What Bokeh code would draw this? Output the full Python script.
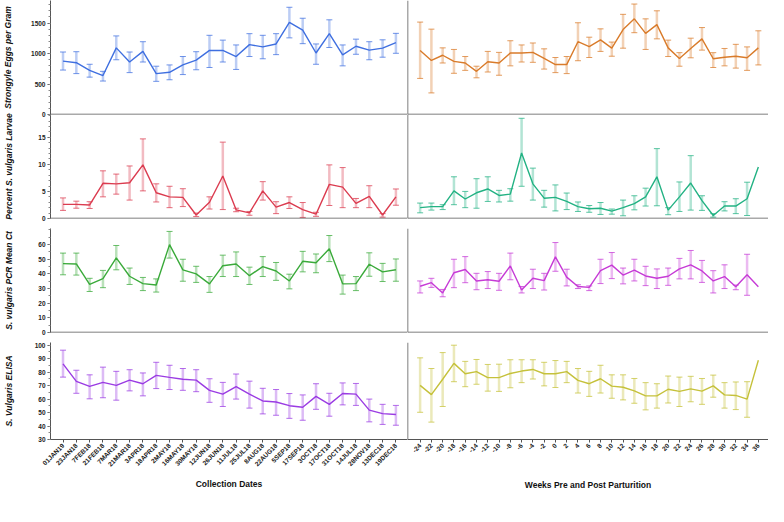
import numpy as np
from math import pi
from bokeh.plotting import figure
from bokeh.layouts import gridplot
from bokeh.models import (ColumnDataSource, Whisker, TeeHead, Range1d, LinearAxis, FixedTicker,
                          Span)
from bokeh.embed import file_html
from bokeh.resources import INLINE

nan = np.nan

dates = ["01JAN19", "23JAN18", "7FEB18", "21FEB18", "7MAR18", "21MAR18", "3APR18", "18APR18",
         "2MAY18", "16MAY18", "30MAY18", "12JUN18", "26JUN18", "11JUL18", "25JUL18", "8AUG18",
         "22AUG18", "5SEP18", "17SEP18", "3OCT18", "17OCT18", "31OCT18", "14JUL18", "28NOV18",
         "13DEC18", "19DEC18"]
weeks = ["-24", "-22", "-20", "-18", "-16", "-14", "-12", "-10", "-8", "-6", "-4", "-2", "0",
         "2", "4", "6", "8", "10", "12", "14", "16", "18", "20", "22", "24", "26", "28", "30",
         "32", "34", "36"]

# Strongyle eggs per gram
epg_date_mean = [875, 850, 724, 639, 1093, 861, 1035, 671, 692, 813, 893, 1051, 1051, 951, 1146,
                 1109, 1157, 1511, 1384, 1009, 1326, 977, 1120, 1056, 1088, 1178]
epg_date_lo = [729, 671, 613, 549, 898, 687, 861, 544, 570, 655, 734, 771, 861, 739, 951, 914,
               982, 1257, 1162, 824, 1099, 798, 988, 898, 940, 1004]
epg_date_hi = [1025, 1030, 824, 708, 1289, 1025, 1194, 792, 813, 951, 1030, 1299, 1220, 1141,
               1326, 1299, 1326, 1759, 1579, 1157, 1553, 1141, 1236, 1194, 1225, 1331]
epg_week_mean = [1051, 887, 972, 871, 845, 708, 866, 845, 1009, 1009, 1019, 919, 819, 819, 1194,
                 1114, 1225, 1088, 1394, 1569, 1331, 1474, 1093, 919, 1083, 1241, 914, 940, 956,
                 930, 1093]
epg_week_lo = [592, 354, 845, 676, 724, 602, 697, 644, 798, 861, 856, 745, 687, 671, 882, 935,
               1035, 956, 1088, 1342, 1067, 1241, 951, 792, 930, 1056, 771, 798, 761, 724, 813]
epg_week_hi = [1516, 1400, 1093, 1067, 951, 792, 1035, 1019, 1210, 1141, 1173, 1077, 935, 951,
               1505, 1268, 1405, 1188, 1643, 1812, 1569, 1701, 1220, 1014, 1252, 1426, 1014,
               1083, 1151, 1109, 1373]

# Percent S. vulgaris larvae
larv_date_mean = [2.6, 2.6, 2.5, 6.5, 6.4, 6.6, 9.9, 4.75, 4.0, 3.9, 0.65, 3.0, 7.85, 1.6, 1.05,
                  5.1, 2.1, 2.95, 1.65, 0.8, 6.3, 5.8, 2.8, 4.1, 0.65, 4.0]
larv_date_lo = [1.5, 1.9, 1.85, 4.0, 4.5, 3.4, 5.1, 3.05, 2.0, 2.2, 0.35, 1.75, 1.65, 1.25, 0.6,
                3.4, 0.9, 1.85, 0.2, 0.4, 2.4, 2.0, 2.0, 2.0, 0.25, 2.45]
larv_date_hi = [3.8, 3.2, 3.1, 8.8, 8.2, 9.7, 14.7, 6.4, 5.95, 5.5, 1.0, 4.0, 14.1, 1.9, 1.3,
                6.8, 3.1, 4.0, 2.95, 1.15, 9.9, 9.4, 3.7, 6.05, 0.9, 5.45]
larv_week_mean = [2.0, 2.2, 2.2, 5.1, 3.6, 4.75, 5.45, 4.25, 4.5, 12.1, 6.4, 3.75, 3.9, 3.15,
                  2.2, 1.8, 1.9, 1.35, 2.0, 2.75, 4.0, 7.7, 1.55, 4.0, 6.55, 3.3, 0.55, 2.3, 2.3,
                  3.65, 9.5]
larv_week_lo = [1.05, 1.55, 1.65, 2.55, 2.0, 1.9, 3.15, 3.05, 3.2, 5.95, 3.4, 2.1, 1.4, 1.65,
                1.3, 1.15, 0.75, 0.8, 0.5, 1.6, 2.3, 2.35, 0.7, 1.3, 1.55, 1.5, 0.25, 1.4, 0.9,
                0.55, nan]
larv_week_hi = [2.85, 2.85, 2.55, 7.7, 5.0, 7.35, 7.7, 5.2, 5.5, 18.5, 9.3, 5.2, 6.2, 4.7, 3.05,
                2.4, 2.95, 1.75, 3.4, 4.2, 5.6, 12.9, 2.0, 6.75, 11.6, 4.2, 0.9, 3.1, 3.65, 6.7,
                nan]

# S. vulgaris PCR mean Ct
pcr_date_mean = [47, 46.8, 32.8, 36.8, 51, 38.4, 33.4, 32.4, 60, 42.8, 40, 33.2, 45.6, 46.8,
                 38.8, 45, 42, 35.2, 48.6, 47.6, 57.2, 33.2, 33.4, 46.6, 41.4, 42.8]
pcr_date_lo = [39.4, 39.2, 28, 30.6, 42.8, 32.8, 28.6, 27.6, 50.8, 35, 34.2, 27.4, 38.2, 38.2,
               32.8, 38.2, 35.6, 29.8, 41.4, 40.8, 48.4, 26.2, 28.6, 38.4, 34.8, 35]
pcr_date_hi = [54.2, 54.2, 37, 42.4, 59.4, 44, 37.6, 36.6, 69, 50, 45.2, 38.2, 52.8, 55, 44.6,
               51.8, 47.8, 39.8, 55.4, 53.6, 66.2, 39.2, 38.2, 54.4, 47.2, 50.2]
pcr_week_mean = [31.6, 34, 27, 40.8, 43, 35.2, 36, 35, 45.4, 29, 37, 35.4, 51.6, 37.8, 31.4,
                 30.8, 42.2, 46, 39.2, 42.6, 38.6, 37, 38.4, 43.4, 46.2, 42, 35.2, 38.2, 31.2,
                 39.4, 31.2]
pcr_week_lo = [27, 30.8, 24.4, 30.6, 34, 29.2, 30, 28.8, 36, 27, 30, 29, 41.8, 31.8, 30, 28.6,
               33.4, 36.8, 33.2, 35.2, 32, 30, 32.2, 36.6, 36.6, 34.2, 27, 30, 29.2, 25.4, nan]
pcr_week_hi = [35.2, 37, 29.4, 50, 51.8, 40.4, 41.6, 40.4, 54.2, 31.4, 43.2, 40.4, 61.4, 43.2,
               32.6, 31.8, 50, 54.6, 44, 50, 45.2, 43.4, 44, 50.6, 56, 49.2, 42.2, 46.2, 32.4,
               53.4, nan]

# S. vulgaris ELISA
elisa_date_mean = [86.1, 73.1, 69.4, 72.4, 70.2, 74.1, 71.4, 77.6, 76.1, 74.7, 74.1, 66.5, 63.7,
                   69.2, 63.7, 58.6, 57.8, 55.1, 53.9, 62.0, 56.1, 64.1, 63.7, 51.8, 49.2, 48.6]
elisa_date_lo = [76.3, 64.3, 60.2, 61.0, 59.2, 66.1, 62.4, 67.8, 67.1, 66.5, 65.5, 57.6, 54.5,
                 60.0, 53.3, 49.0, 48.0, 45.7, 44.3, 52.4, 47.3, 55.7, 55.3, 43.1, 41.2, 40.6]
elisa_date_hi = [96.3, 81.4, 78.0, 83.7, 80.6, 81.8, 79.4, 87.3, 85.1, 82.7, 81.8, 75.1, 72.4,
                 78.6, 73.3, 68.0, 67.1, 64.1, 63.1, 71.4, 64.3, 72.0, 71.6, 60.0, 56.1, 55.3]
elisa_week_mean = [70.2, 63.3, 74.7, 86.5, 78.8, 80.4, 75.9, 75.9, 79.0, 80.8, 82.0, 78.8, 78.8,
                   80.4, 73.9, 71.4, 75.1, 69.6, 68.8, 66.1, 62.4, 62.4, 67.3, 65.7, 67.6, 65.9,
                   69.8, 63.1, 62.7, 60.0, 88.8]
elisa_week_lo = [50.2, 42.9, 54.5, 72.9, 69.2, 71.0, 65.9, 65.7, 68.4, 72.2, 74.9, 69.8, 68.6,
                 72.2, 64.5, 62.0, 64.5, 60.6, 59.4, 56.9, 52.0, 53.3, 57.1, 54.5, 58.0, 56.1,
                 61.4, 53.3, 52.2, 46.5, nan]
elisa_week_hi = [90.6, 82.7, 94.5, 100.0, 88.0, 89.4, 85.7, 85.9, 89.2, 89.2, 89.2, 87.3, 88.6,
                 88.0, 82.7, 80.6, 85.1, 78.0, 78.0, 75.3, 72.2, 71.4, 77.1, 76.3, 76.9, 75.3,
                 77.8, 72.2, 72.7, 72.9, nan]

row_labels = ["Strongyle Eggs per Gram", "Percent S. vulgaris Larvae",
              "S. vulgaris PCR Mean Ct", "S. Vulgaris ELISA"]
x_labels = ["Collection Dates", "Weeks Pre and Post Parturition"]

FONT = "Liberation Sans"
AX = "#555555"
LEFT_W, RIGHT_W = 407, 361
FRAME_H = 114
PAD = 5          # overlap band between stacked rows
BOT_B = 46       # bottom border of the last row


def panel(cats, pad_l, pad_r, mean, lo, hi, color, yr, ticks, minor, left, first, bottom,
          ylabel=None, ylab_so=0, xlabel=None, xlab_so=0):
    n = len(cats)
    xs = list(range(n))
    top_b = 0 if first else PAD
    bot_b = BOT_B if bottom else PAD
    x_start = -pad_l
    p = figure(x_range=Range1d(x_start, n - 1 + pad_r),
               y_range=Range1d(*yr),
               width=LEFT_W if left else RIGHT_W,
               height=FRAME_H + top_b + bot_b,
               output_backend="svg", toolbar_location=None,
               x_axis_location=None, y_axis_location=None,
               min_border_left=45 if left else 0, min_border_right=0,
               min_border_top=top_b, min_border_bottom=bot_b)
    if not first:
        p.styles = {"margin-top": f"-{2 * PAD}px"}
    p.outline_line_color = None
    p.background_fill_alpha = 0
    p.border_fill_alpha = 0
    p.xgrid.visible = False
    p.ygrid.visible = False

    if left:
        ya = LinearAxis(axis_line_color=AX, axis_line_width=1)
        ya.ticker = FixedTicker(ticks=ticks, minor_ticks=minor)
        ya.axis_label = ylabel
        ya.axis_label_text_font = FONT
        ya.axis_label_text_font_style = "bold italic"
        ya.axis_label_text_font_size = "8.5px"
        ya.axis_label_text_color = "#111111"
        ya.axis_label_standoff = ylab_so
        ya.major_label_text_font = FONT
        ya.major_label_text_font_style = "bold"
        ya.major_label_text_font_size = "6.5px"
        ya.major_label_text_color = "#222222"
        ya.major_label_standoff = 2
        ya.major_tick_line_color = AX
        ya.minor_tick_line_color = "#888888"
        ya.major_tick_out = 3
        ya.major_tick_in = 0
        ya.minor_tick_out = 2
        ya.minor_tick_in = 0
        p.add_layout(ya, "left")
    else:
        # divider line on the left edge of the right-hand panels
        p.add_layout(Span(location=x_start, dimension="height", line_color=AX, line_width=1.5))

    if bottom:
        xa = LinearAxis(axis_line_color=AX, axis_line_width=1)
        xa.ticker = FixedTicker(ticks=xs, minor_ticks=[])
        xa.major_label_overrides = {i: c for i, c in zip(xs, cats)}
        xa.axis_label = xlabel
        xa.axis_label_text_font = FONT
        xa.axis_label_text_font_style = "bold"
        xa.axis_label_text_font_size = "8.5px"
        xa.axis_label_text_color = "#111111"
        xa.axis_label_standoff = xlab_so
        xa.major_label_orientation = pi / 4
        xa.major_label_text_font = FONT
        xa.major_label_text_font_style = "bold"
        xa.major_label_text_font_size = "6.5px"
        xa.major_label_text_color = "#222222"
        xa.major_label_standoff = 2
        xa.major_tick_line_color = AX
        xa.major_tick_out = 3
        xa.major_tick_in = 0
        p.add_layout(xa, "below")
    else:
        p.add_layout(Span(location=yr[0], dimension="width", line_color=AX, line_width=1.5))

    src = ColumnDataSource(dict(x=xs, mean=mean,
                                lo=np.array(lo, dtype=float), hi=np.array(hi, dtype=float)))
    w = Whisker(base="x", lower="lo", upper="hi", source=src,
                line_color=color, line_alpha=0.35, line_width=2.5,
                upper_head=TeeHead(size=6, line_color=color, line_alpha=0.75, line_width=1),
                lower_head=TeeHead(size=6, line_color=color, line_alpha=0.75, line_width=1))
    p.add_layout(w)
    p.line(x="x", y="mean", source=src, line_color=color, line_width=1.4)
    return p


rows = [
    dict(dm=epg_date_mean, dl=epg_date_lo, dh=epg_date_hi,
         wm=epg_week_mean, wl=epg_week_lo, wh=epg_week_hi,
         c1="#3f6fe0", c2="#d97b2a", yr=(0, 1870), ticks=[0, 500, 1000, 1500],
         minor=list(range(0, 1870, 100)), so=15),
    dict(dm=larv_date_mean, dl=larv_date_lo, dh=larv_date_hi,
         wm=larv_week_mean, wl=larv_week_lo, wh=larv_week_hi,
         c1="#db3b4f", c2="#22b283", yr=(0, 19.2), ticks=[0, 5, 10, 15],
         minor=list(range(0, 20)), so=21),
    dict(dm=pcr_date_mean, dl=pcr_date_lo, dh=pcr_date_hi,
         wm=pcr_week_mean, wl=pcr_week_lo, wh=pcr_week_hi,
         c1="#3aaa3a", c2="#c63ad6", yr=(0, 71), ticks=[0, 10, 20, 30, 40, 50, 60],
         minor=list(range(0, 72, 5)), so=21),
    dict(dm=elisa_date_mean, dl=elisa_date_lo, dh=elisa_date_hi,
         wm=elisa_week_mean, wl=elisa_week_lo, wh=elisa_week_hi,
         c1="#9a3be3", c2="#c5c13a", yr=(30, 102),
         ticks=[30, 40, 50, 60, 70, 80, 90, 100],
         minor=list(range(30, 103, 5)), so=18),
]

grid_rows = []
for i, r in enumerate(rows):
    first = i == 0
    bottom = i == len(rows) - 1
    pl = panel(dates, 0.94, 0.87, r["dm"], r["dl"], r["dh"], r["c1"], r["yr"], r["ticks"],
               r["minor"], True, first, bottom, ylabel=row_labels[i], ylab_so=r["so"],
               xlabel=x_labels[0], xlab_so=6)
    pr = panel(weeks, 1.12, 0.9, r["wm"], r["wl"], r["wh"], r["c2"], r["yr"], r["ticks"],
               r["minor"], False, first, bottom, xlabel=x_labels[1], xlab_so=22)
    grid_rows.append([pl, pr])

grid = gridplot(grid_rows, toolbar_location=None)

open("out.html", "w").write(file_html(grid, INLINE))
